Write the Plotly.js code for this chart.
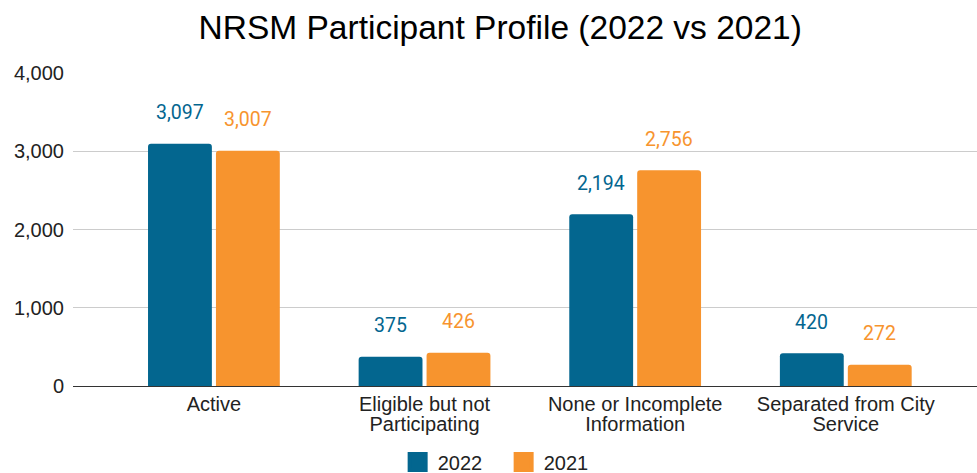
<!DOCTYPE html>
<html><head><meta charset="utf-8">
<script src="https://cdn.plot.ly/plotly-3.0.1.min.js"></script>
<style>html,body{margin:0;padding:0;background:#fff}#chart{width:977px;height:473px}</style>
</head><body><div id="chart"></div>
<script>
const categories = ["Active", "Eligible but not Participating", "None or Incomplete Information", "Separated from City Service"];
const labelLine1 = ["Active", "Eligible but not", "None or Incomplete", "Separated from City"];
const labelLine2 = ["", "Participating", "Information", "Service"];
const values2022 = [3097, 375, 2194, 420];
const values2021 = [3007, 426, 2756, 272];
const seriesNames = ["2022", "2021"];
const colors = ["#03668f", "#f7942e"];
const yTicks = [0, 1000, 2000, 3000, 4000];

const idx = categories.map((c, i) => i);
const series = [values2022, values2021];
const traces = series.map((v, k) => ({
  type: 'bar', x: idx, y: v, name: seriesNames[k],
  marker: {color: colors[k], line: {width: 0}},
  hoverinfo: 'none', showlegend: false
}));
// legend entries (square swatches)
series.forEach((v, k) => traces.push({
  type: 'scatter', mode: 'markers', x: [null], y: [null], name: seriesNames[k],
  marker: {symbol: 'square', size: 16, color: colors[k], line: {width: 4, color: colors[k]}},
  hoverinfo: 'none', showlegend: true
}));
// carrier for second line of category labels
traces.push({type: 'scatter', mode: 'markers', x: idx, y: idx.map(() => null), xaxis: 'x2',
  showlegend: false, hoverinfo: 'none'});

const fmt = n => n.toLocaleString('en-US');
const annotations = [];
const slot = 0.3225 / 2; // offset of each bar from category center (derived from bargap layout)
series.forEach((v, k) => {
  v.forEach((val, i) => {
    annotations.push({
      x: i + (k === 0 ? -slot : slot), y: val, xref: 'x', yref: 'y',
      text: fmt(val), showarrow: false, yanchor: 'middle', yshift: 31,
      font: {family: 'Roboto', size: 19.5, color: colors[k]}
    });
  });
});

const axFont = {family: 'Liberation Sans, Arial', size: 20, color: '#222'};
const xRange = [-0.669, 3.623];
const layout = {
  width: 977, height: 473,
  margin: {l: 73, r: 0, t: 73, b: 87},
  paper_bgcolor: '#fff', plot_bgcolor: '#fff',
  title: {text: 'NRSM Participant Profile (2022 vs 2021)', x: 0.512, xref: 'container', xanchor: 'center',
          y: 0.942, yref: 'container', yanchor: 'middle',
          font: {family: 'Liberation Sans, Arial', size: 33.5, color: '#000'}},
  barmode: 'group', bargap: 0.355, bargroupgap: 0.06, barcornerradius: 3,
  xaxis: {
    range: xRange, tickvals: idx, ticktext: labelLine1,
    showgrid: false, zeroline: false, showline: false, ticks: '', ticklabelstandoff: 4,
    tickfont: axFont, fixedrange: true
  },
  xaxis2: {
    overlaying: 'x', anchor: 'y', side: 'bottom',
    range: xRange, tickvals: idx, ticktext: labelLine2,
    showgrid: false, zeroline: false, showline: false, ticks: '', ticklabelstandoff: 24,
    tickfont: axFont, fixedrange: true
  },
  yaxis: {
    range: [0, 4000], tickvals: yTicks, ticktext: yTicks.map(fmt),
    showgrid: true, gridcolor: '#cccccc', gridwidth: 1, zeroline: true, zerolinecolor: '#333', zerolinewidth: 1,
    showline: false, ticks: '', ticklabelstandoff: 8,
    tickfont: axFont, fixedrange: true
  },
  legend: {orientation: 'h', xref: 'container', yref: 'container', x: 0.407, y: 0.023,
           xanchor: 'left', yanchor: 'middle', entrywidth: 61, entrywidthmode: 'pixels',
           itemsizing: 'trace', font: axFont},
  showlegend: true,
  annotations: annotations
};
Plotly.newPlot('chart', traces, layout, {displayModeBar: false, staticPlot: true});
</script></body></html>
